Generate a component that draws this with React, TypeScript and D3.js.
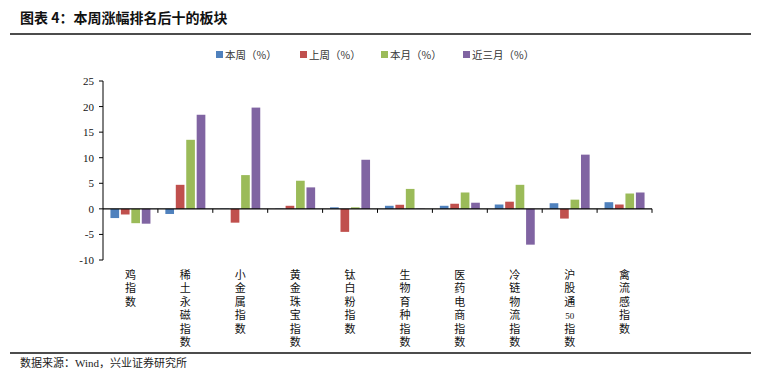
import React from "react";
import * as d3 from "d3";

const categories = ["鸡指数", "稀土永磁指数", "小金属指数", "黄金珠宝指数", "钛白粉指数", "生物育种指数", "医药电商指数", "冷链物流指数", "沪股通50指数", "禽流感指数"];
const seriesNames = ["本周（%）", "上周（%）", "本月（%）", "近三月（%）"];
const thisWeek = [-1.8, -1.0, 0.05, 0.05, 0.3, 0.6, 0.6, 0.85, 1.1, 1.3];
const lastWeek = [-1.1, 4.7, -2.7, 0.6, -4.5, 0.8, 1.0, 1.4, -1.9, 0.85];
const thisMonth = [-2.8, 13.5, 6.6, 5.5, 0.3, 3.9, 3.2, 4.7, 1.8, 3.0];
const threeMonth = [-2.9, 18.4, 19.8, 4.2, 9.6, 0.05, 1.2, -7.0, 10.6, 3.2];
const yTicks = [25, 20, 15, 10, 5, 0, -5, -10];
const colors = ["#4F81BD", "#C0504D", "#9BBB59", "#8064A2"];

const series = [thisWeek, lastWeek, thisMonth, threeMonth];

// split label into stacked cells: each CJK char is a cell, a digit run is one cell
function cells(label: string): string[] {
  return label.match(/[0-9]+|./g) || [label];
}

export default function App() {
  const W = 761, H = 372;
  const font = "'Noto Sans CJK SC', sans-serif";
  const labelFont = "'Liberation Serif', 'Noto Sans CJK SC', serif";
  const x = d3.scaleBand<string>().domain(categories).range([103, 652]).paddingInner(0).paddingOuter(0);
  const y = d3.scaleLinear().domain([-10, 25]).range([260, 81]);
  const inner = d3.scaleBand<number>().domain([0, 1, 2, 3]).range([0, 40]).paddingInner(0.17);
  const groupOffset = (x.bandwidth() - 40) / 2;
  const legendX = [216, 300, 381, 463];
  return (
    <svg width={W} height={H} style={{ position: "absolute", left: 0, top: 0, background: "#fff" }} fontFamily={font}>
      <text x={20} y={23} fontSize={14} fontWeight="bold" fill="#111">图表 4：本周涨幅排名后十的板块</text>
      <line x1={10} x2={751} y1={34} y2={34} stroke="#111" strokeWidth={1.5} />
      {seriesNames.map((s, i) => (
        <g key={s}>
          <rect x={legendX[i]} y={51} width={7} height={7} fill={colors[i]} />
          <text x={legendX[i] + 9} y={58.5} fontSize={10.5} fill="#333">{s}</text>
        </g>
      ))}
      {series.map((vals, si) =>
        vals.map((v, ci) => {
          const bx = (x(categories[ci]) as number) + groupOffset + (inner(si) as number);
          const y0 = y(0), y1 = y(v);
          return <rect key={si + "-" + ci} x={bx} y={Math.min(y0, y1)} width={inner.bandwidth()} height={Math.abs(y1 - y0)} fill={colors[si]} />;
        })
      )}
      <line x1={103} x2={103} y1={y(25)} y2={y(-10)} stroke="#000" strokeWidth={1} />
      {yTicks.map((t) => (
        <g key={t}>
          <line x1={99} x2={103} y1={y(t)} y2={y(t)} stroke="#000" />
          <text x={94} y={y(t) + 4} fontSize={11} textAnchor="end" fill="#111" fontFamily="'Liberation Serif', serif">{t}</text>
        </g>
      ))}
      <line x1={103} x2={652} y1={y(0)} y2={y(0)} stroke="#000" strokeWidth={1.2} />
      {categories.map((c) => (
        <line key={c} x1={(x(c) as number) + x.bandwidth()} x2={(x(c) as number) + x.bandwidth()} y1={y(0)} y2={y(0) + 4} stroke="#000" />
      ))}
      {categories.map((c) => {
        const cx = (x(c) as number) + x.bandwidth() / 2;
        return (
          <g key={c}>
            {cells(c).map((ch, k) => (
              <text key={k} x={cx} y={279 + k * 13.4} fontSize={ch.length > 1 ? 9 : 11} textAnchor="middle" fill="#111"
                fontFamily={labelFont}>{ch}</text>
            ))}
          </g>
        );
      })}
      <line x1={10} x2={751} y1={353} y2={353} stroke="#111" strokeWidth={1.5} />
      <text x={20} y={367} fontSize={11} fill="#222">数据来源：<tspan fontFamily="'Liberation Serif', serif">Wind</tspan>，兴业证券研究所</text>
    </svg>
  );
}
